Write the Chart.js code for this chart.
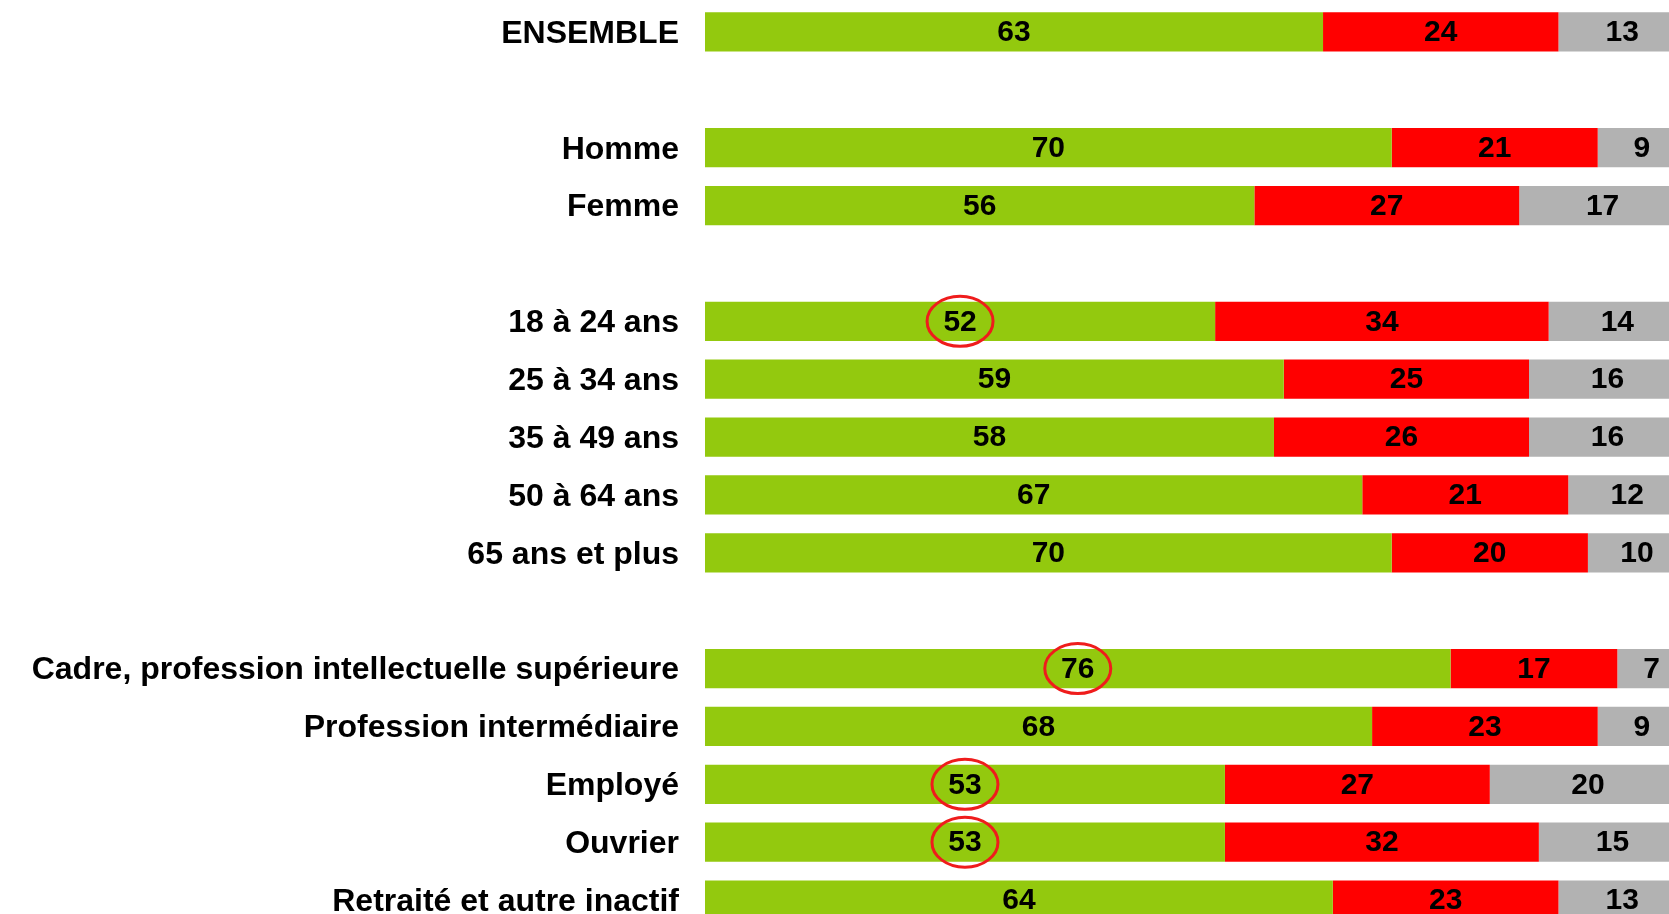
<!DOCTYPE html>
<html>
<head>
<meta charset="utf-8">
<script src="https://cdn.jsdelivr.net/npm/chart.js@4/dist/chart.umd.min.js"></script>
<style>
  html, body { margin: 0; padding: 0; background: #fff; overflow: hidden; }
  #wrap { width: 1686px; height: 929px; }
</style>
</head>
<body>
<div id="wrap"><canvas id="chart"></canvas></div>
<script>
// rows, empty strings are the gaps between groups
const categories = [
  'ENSEMBLE', '',
  'Homme', 'Femme', '',
  '18 à 24 ans', '25 à 34 ans', '35 à 49 ans', '50 à 64 ans', '65 ans et plus', '',
  'Cadre, profession intellectuelle supérieure', 'Profession intermédiaire',
  'Employé', 'Ouvrier', 'Retraité et autre inactif'
]
const greenValues = [63, null, 70, 56, null, 52, 59, 58, 67, 70, null, 76, 68, 53, 53, 64]
const redValues = [24, null, 21, 27, null, 34, 25, 26, 21, 20, null, 17, 23, 27, 32, 23]
const greyValues = [13, null, 9, 17, null, 14, 16, 16, 12, 10, null, 7, 9, 20, 15, 13]
const circled = ['18 à 24 ans', 'Cadre, profession intellectuelle supérieure', 'Employé', 'Ouvrier']

const FONT = '"Liberation Sans", Arial, Helvetica, sans-serif'

// value labels in the middle of each segment + red rings on some green values
const segmentLabels = {
  id: 'segmentLabels',
  afterDatasetsDraw(chart) {
    const ctx = chart.ctx
    ctx.save()
    ctx.font = `bold 30px ${FONT}`
    ctx.fillStyle = '#000'
    ctx.textAlign = 'center'
    ctx.textBaseline = 'middle'
    chart.data.datasets.forEach((ds, di) => {
      const meta = chart.getDatasetMeta(di)
      meta.data.forEach((bar, i) => {
        const v = ds.data[i]
        if (v === null || v === undefined) return
        const cx = (bar.x + bar.base) / 2
        ctx.fillText(String(v), cx, bar.y + 1)
        if (di === 0 && circled.includes(categories[i])) {
          ctx.strokeStyle = '#ef1c1c'
          ctx.lineWidth = 3
          ctx.beginPath()
          ctx.ellipse(cx, bar.y, 33, 25, 0, 0, Math.PI * 2)
          ctx.stroke()
        }
      })
    })
    ctx.restore()
  }
}

new Chart(document.getElementById('chart'), {
  type: 'bar',
  data: {
    labels: categories,
    datasets: [
      { label: 'vert', data: greenValues, backgroundColor: '#93c90e' },
      { label: 'rouge', data: redValues, backgroundColor: '#ff0000' },
      { label: 'gris', data: greyValues, backgroundColor: '#b2b2b2' }
    ]
  },
  options: {
    indexAxis: 'y',
    responsive: true,
    maintainAspectRatio: false,
    animation: false,
    layout: { padding: { top: 3, right: 0, bottom: 0, left: 0 } },
    datasets: {
      bar: { barPercentage: 0.68, categoryPercentage: 1, borderWidth: 0 }
    },
    plugins: {
      legend: { display: false },
      tooltip: { enabled: false }
    },
    scales: {
      x: {
        stacked: true,
        min: 0,
        max: 100,
        display: false
      },
      y: {
        stacked: true,
        grid: { display: false, drawTicks: false },
        border: { display: false },
        afterFit: (scale) => {
          scale.width = 705
          scale.paddingTop = 0
          scale.paddingBottom = 0
        },
        ticks: {
          autoSkip: false,
          padding: 26,
          labelOffset: 2,
          color: '#000',
          font: { family: FONT, size: 32, weight: 'bold' }
        }
      }
    }
  },
  plugins: [segmentLabels]
})
</script>
</body>
</html>
